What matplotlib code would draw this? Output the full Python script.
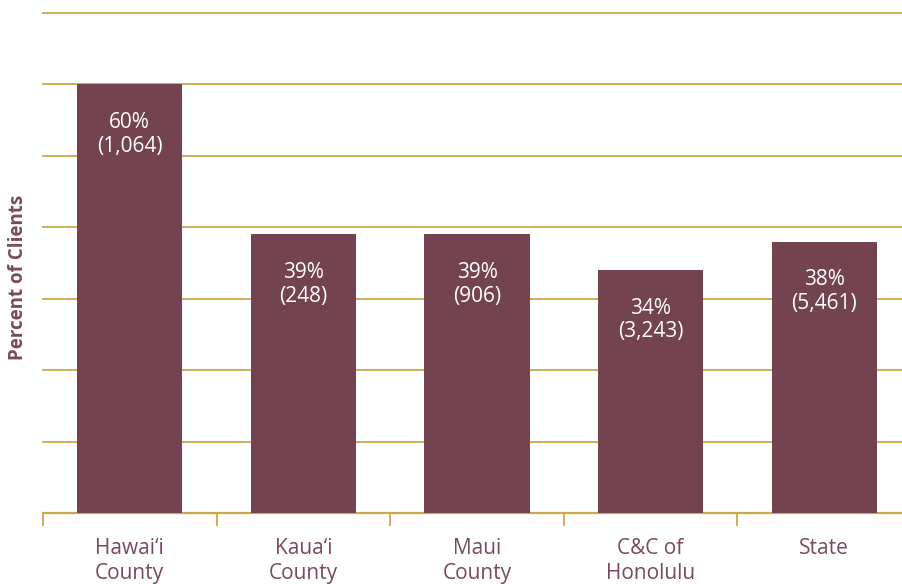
import matplotlib
matplotlib.use("Agg")
import matplotlib.pyplot as plt
import numpy as np

categories = ["Hawai\u2018i\nCounty", "Kaua\u2018i\nCounty", "Maui\nCounty", "C&C of\nHonolulu", "State"]
percents = [60, 39, 39, 34, 38]
counts = ["1,064", "248", "906", "3,243", "5,461"]

bar_color = "#734450"
gold = "#C8A94B"
text_color = "#7A4A5A"

plt.rcParams['font.family'] = ['Open Sans', 'DejaVu Sans']

fig = plt.figure(figsize=(9.03, 5.84), dpi=100)
W, H = 903, 584
left, right, top, bottom = 43, 911, 13, 513
ax = fig.add_axes([left / W, 1 - bottom / H, (right - left) / W, (bottom - top) / H])

x = np.arange(len(categories))
ax.bar(x, percents, width=0.605, color=bar_color, zorder=3)

ax.set_xlim(-0.5, len(categories) - 0.5)
ax.set_ylim(0, 70)
ax.set_yticks(np.arange(0, 71, 10))
ax.yaxis.grid(True, color=gold, linewidth=1.3, zorder=0)
for gl in ax.get_ygridlines():
    gl.set_clip_on(False)
ax.tick_params(axis='y', length=0, labelleft=False)

for s in ['top', 'right', 'left']:
    ax.spines[s].set_visible(False)
ax.spines['bottom'].set_color(gold)
ax.spines['bottom'].set_linewidth(1.6)

ax.set_xticks(x)
ax.set_xticklabels(categories, fontsize=15, color=text_color, linespacing=1.22)
ax.tick_params(axis='x', which='major', length=0, pad=18)
ax.set_xticks(np.arange(-0.5, len(categories) + 0.5, 1), minor=True)
ax.tick_params(axis='x', which='minor', length=9, width=1.3, color=gold)

for xi, p, c in zip(x, percents, counts):
    ax.annotate(f"{p}%\n({c})", xy=(xi, p), xytext=(0, -36),
                textcoords='offset points', ha='center', va='center',
                color='white', fontsize=15, linespacing=1.15, zorder=4)

fig.text(18 / W, 1 - 277 / H, "Percent of Clients", rotation=90, ha='center', va='center',
         fontsize=13.5, fontweight='bold', color=text_color)

fig.savefig("out.png", dpi=100)
